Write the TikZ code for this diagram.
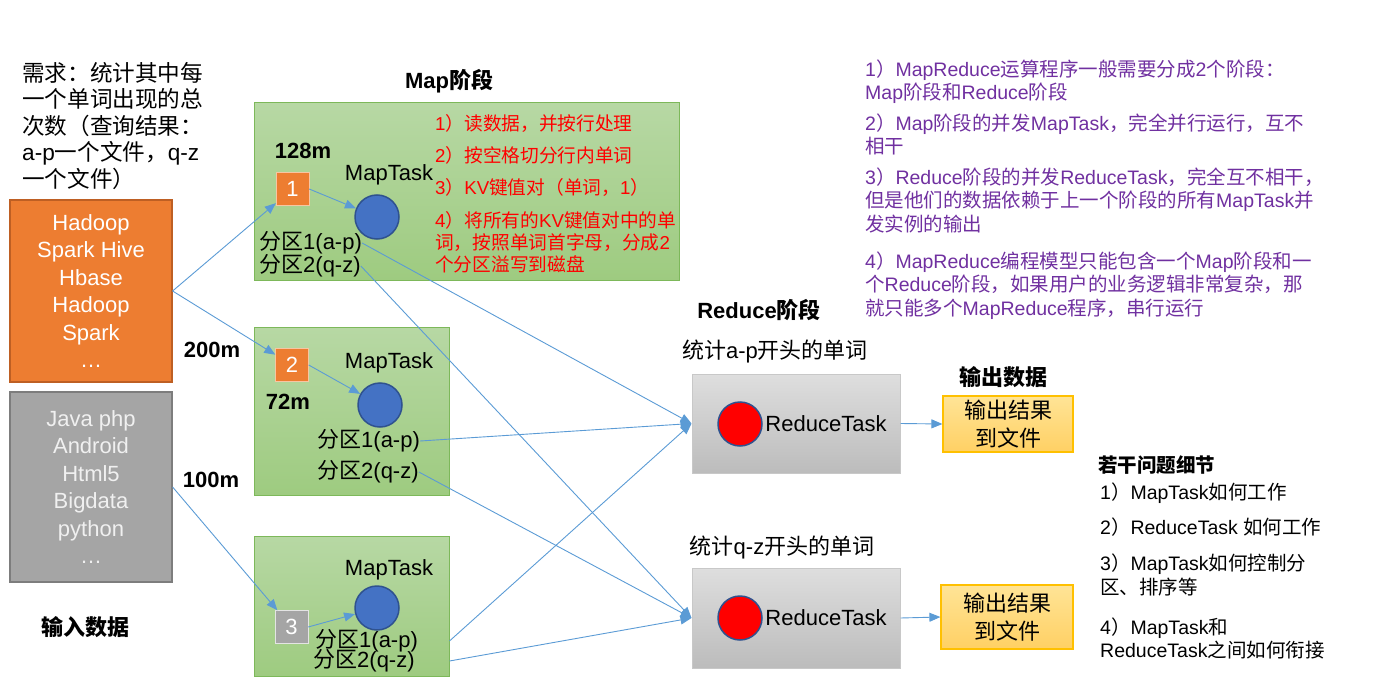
\documentclass[tikz,border=0pt]{standalone}
\usepackage{fontspec}
\setmainfont{Liberation Sans}
\newfontfamily\cjk{Noto Sans CJK SC}
\usetikzlibrary{arrows.meta}

% Chinese characters in the CJK font, the rest in Liberation Sans
\XeTeXinterchartokenstate=1
\newXeTeXintercharclass\cjkclass
\newcount\cjkcode
\newcommand\cjkrange[2]{%
  \cjkcode=#1\relax
  \loop
    \XeTeXcharclass\cjkcode=\cjkclass
    \advance\cjkcode by 1
  \ifnum\cjkcode<#2\relax\repeat}
\cjkrange{"3000}{"3040}
\cjkrange{"4E00}{"A000}
\cjkrange{"FF00}{"FFF0}
\XeTeXinterchartoks 0 \cjkclass = {\cjk}
\XeTeXinterchartoks 4095 \cjkclass = {\cjk}
\XeTeXinterchartoks \cjkclass 0 = {\rmfamily}
\XeTeXinterchartoks 4095 0 = {\rmfamily}

\definecolor{flowblue}{RGB}{91,155,213}
\definecolor{inorange}{RGB}{237,125,49}
\definecolor{inorangeline}{RGB}{190,95,35}
\definecolor{ingray}{RGB}{165,165,165}
\definecolor{ingrayline}{RGB}{125,125,125}
\definecolor{maptop}{RGB}{183,216,164}
\definecolor{mapbottom}{RGB}{158,203,128}
\definecolor{mapline}{RGB}{125,184,90}
\definecolor{taskblue}{RGB}{68,114,196}
\definecolor{taskline}{RGB}{47,82,143}
\definecolor{reducetop}{RGB}{222,222,222}
\definecolor{reducebottom}{RGB}{188,188,188}
\definecolor{reduceline}{RGB}{200,200,200}
\definecolor{outtop}{RGB}{255,228,150}
\definecolor{outbottom}{RGB}{255,208,100}
\definecolor{outline}{RGB}{255,192,0}
\definecolor{notepurple}{RGB}{112,48,160}

\newcommand\bigfont{\fontsize{22}{27.5}\selectfont}
\newcommand\midfont{\fontsize{19.5}{23.5}\selectfont}
\newcommand\redfont{\fontsize{18.7}{22}\selectfont}

\begin{document}
\begin{tikzpicture}[x=1pt,y=-1pt,
  flow/.style={draw=flowblue,line width=0.9pt,-{Triangle[length=11pt,width=9pt]}},
  inbox/.style={draw,line width=1.2pt,minimum width=162,align=center,text=white,font=\bigfont},
  mapbox/.style={draw=mapline,line width=1pt,top color=maptop,bottom color=mapbottom},
  splitbox/.style={minimum size=33,inner sep=0,text=white,font=\bigfont},
  task/.style={circle,draw=taskline,line width=1.5pt,minimum size=44,inner sep=0},
  reducebox/.style={draw=reduceline,line width=1pt,top color=reducetop,bottom color=reducebottom,minimum width=208},
  outbox/.style={draw=outline,line width=1.2pt,top color=outtop,bottom color=outbottom,inner sep=2pt,align=center,font=\bigfont},
  txt/.style={inner sep=0,font=\bigfont},
  headtxt/.style={inner sep=0,font=\bigfont\bfseries},
  note/.style={inner sep=0,anchor=west,align=left,font=\midfont}]

        \useasboundingbox (0,0) rectangle (1392,682);

        %input data
        \node[txt,anchor=west,align=left,font=\fontsize{22.6}{26.5}\selectfont] (ask) at (22,126)
        {需求：统计其中每\\一个单词出现的总\\次数（查询结果：\\a-p一个文件，q-z\\一个文件）};
        \node[inbox,fill=inorange,draw=inorangeline,minimum height=182] (in1) at (91,291)
        {Hadoop\\Spark Hive\\Hbase\\Hadoop\\Spark\\…};
        \node[inbox,fill=ingray,draw=ingrayline,minimum height=190,text=white!94!black] (in2) at (91,487)
        {Java php\\Android\\Html5\\Bigdata\\python\\…};
        \node[headtxt] (indata) at (85,627) {输入数据};
        \node[headtxt] (m200) at (212,350) {200m};
        \node[headtxt] (m100) at (211,480) {100m};

        %map stage
        \node[headtxt] (maphead) at (449,81) {Map阶段};
        \node[mapbox,minimum width=425,minimum height=177] (map1) at (466.5,191.5) {};
        \node[mapbox,minimum width=195,minimum height=168] (map2) at (351.5,411) {};
        \node[mapbox,minimum width=195,minimum height=140] (map3) at (351.5,606) {};

        %splits
        \node[splitbox,fill=inorange,draw=white!55!inorange] (sq1) at (292.5,189) {1};
        \node[splitbox,fill=inorange,draw=white!55!inorange] (sq2) at (292,365) {2};
        \node[splitbox,fill=ingray,draw=white!70!ingray] (sq3) at (291.5,627) {3};
        \node[headtxt] (m128) at (303,151) {128m};
        \node[headtxt] (m72) at (288,402) {72m};

        %map tasks
        \node[task,fill=taskblue] (c1) at (377,217) {};
        \node[task,fill=taskblue] (c2) at (380,405) {};
        \node[task,fill=taskblue] (c3) at (377,608) {};
        \node[txt] (t1) at (389,175) {MapTask};
        \node[txt] (t2) at (389,363) {MapTask};
        \node[txt] (t3) at (389,570) {MapTask};

        %partitions
        \node[txt,anchor=west] (p11) at (259,243) {分区1(a-p)};
        \node[txt,anchor=west] (p12) at (259,266) {分区2(q-z)};
        \node[txt,anchor=west] (p21) at (317,441) {分区1(a-p)};
        \node[txt,anchor=west] (p22) at (317,472) {分区2(q-z)};
        \node[txt,anchor=west] (p31) at (315,641) {分区1(a-p)};
        \node[txt,anchor=west] (p32) at (313,661) {分区2(q-z)};

        %map steps
        \node[note,font=\redfont,text=red] (s1) at (435,123) {1）读数据，并按行处理};
        \node[note,font=\redfont,text=red] (s2) at (435,155) {2）按空格切分行内单词};
        \node[note,font=\redfont,text=red] (s3) at (435,187) {3）KV键值对（单词，1）};
        \node[note,font=\redfont,text=red] (s4) at (435,242)
        {4）将所有的KV键值对中的单\\词，按照单词首字母，分成2\\个分区溢写到磁盘};

        %reduce stage
        \node[headtxt] (redhead) at (759,310) {Reduce阶段};
        \node[txt] (g1) at (775,351) {统计a-p开头的单词};
        \node[reducebox,minimum height=99] (r1) at (796,423.5) {};
        \node[task,fill=red] (rc1) at (740,424) {};
        \node[txt] (rt1) at (826,424) {ReduceTask};
        \node[txt] (g2) at (782,547) {统计q-z开头的单词};
        \node[reducebox,minimum height=100] (r2) at (796,618) {};
        \node[task,fill=red] (rc2) at (740,618) {};
        \node[txt] (rt2) at (826,618) {ReduceTask};

        %output
        \node[headtxt] (outhead) at (1003,377) {输出数据};
        \node[outbox,minimum width=130,minimum height=56] (o1) at (1008,424) {输出结果\\到文件};
        \node[outbox,minimum width=132,minimum height=64] (o2) at (1007,617) {输出结果\\到文件};

        %notes
        \node[note,text=notepurple] (n1) at (865,81.5)
        {1）MapReduce运算程序一般需要分成2个阶段：\\Map阶段和Reduce阶段};
        \node[note,text=notepurple] (n2) at (865,134.5)
        {2）Map阶段的并发MapTask，完全并行运行，互不\\相干};
        \node[note,text=notepurple] (n3) at (865,200)
        {3）Reduce阶段的并发ReduceTask，完全互不相干，\\但是他们的数据依赖于上一个阶段的所有MapTask并\\发实例的输出};
        \node[note,text=notepurple] (n4) at (865,285.5)
        {4）MapReduce编程模型只能包含一个Map阶段和一\\个Reduce阶段，如果用户的业务逻辑非常复杂，那\\就只能多个MapReduce程序，串行运行};

        %questions
        \node[note,font=\midfont\bfseries] (qhead) at (1098,465) {若干问题细节};
        \node[note] (q1) at (1100,493) {1）MapTask如何工作};
        \node[note] (q2) at (1100,527) {2）ReduceTask 如何工作};
        \node[note] (q3) at (1100,575) {3）MapTask如何控制分\\区、排序等};
        \node[note] (q4) at (1100,638.5) {4）MapTask和\\ReduceTask之间如何衔接};

        %input arrows
        \draw[flow] (in1.east) -- (sq1);
        \draw[flow] (in1.east) -- (sq2);
        \draw[flow] (in2.east) -- (sq3);
        \draw[flow] (sq1.east) -- (c1);
        \draw[flow] (sq2.east) -- (c2);
        \draw[flow] (sq3.east) -- (c3);

        %shuffle
        \draw[flow] (p11.east) -- (r1.west);
        \draw[flow] (p12.east) -- (r2.west);
        \draw[flow] (p21.east) -- (r1.west);
        \draw[flow] (p22.east) -- (r2.west);
        \draw[flow] (p31.east -| map3.east) -- (r1.west);
        \draw[flow] (p32.east -| map3.east) -- (r2.west);

        %output arrows
        \draw[flow] (r1.east) -- (o1.west);
        \draw[flow] (r2.east) -- (o2.west);

\end{tikzpicture}
\end{document}
